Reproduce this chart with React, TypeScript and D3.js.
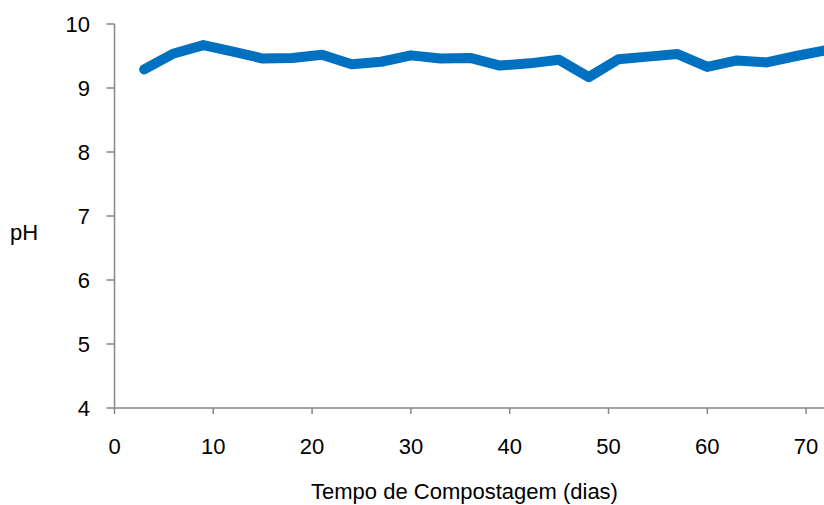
import React from "react";
import * as d3 from "d3";

const days = [3, 6, 9, 12, 15, 18, 21, 24, 27, 30, 33, 36, 39, 42, 45, 48, 51, 54, 57, 60, 63, 66, 69, 72];
const phValues = [9.29, 9.54, 9.67, 9.57, 9.46, 9.47, 9.52, 9.37, 9.41, 9.51, 9.46, 9.47, 9.35, 9.385, 9.44, 9.17, 9.45, 9.49, 9.53, 9.33, 9.43, 9.4, 9.5, 9.59];
const xTicks = [0, 10, 20, 30, 40, 50, 60, 70];
const yTicks = [4, 5, 6, 7, 8, 9, 10];

const W = 824;
const H = 505;
const FONT = "'Liberation Sans', Arial, sans-serif";

export default function App() {
  const x = d3.scaleLinear().domain([0, 80]).range([114.5, 114.5 + 80 * 9.88]);
  const y = d3.scaleLinear().domain([4, 10]).range([408, 24]);
  const line = d3
    .line<number>()
    .x((_, i) => x(days[i]))
    .y((d) => y(d));
  const axisColor = "#868686";
  return (
    <svg
      width={W}
      height={H}
      style={{ position: "absolute", left: 0, top: 0, display: "block" }}
      fontFamily={FONT}
    >
      <rect width={W} height={H} fill="#ffffff" />
      {/* Y axis */}
      <line x1={x(0)} x2={x(0)} y1={y(10)} y2={y(4)} stroke={axisColor} strokeWidth={1.5} />
      {yTicks.map((t) => (
        <g key={"y" + t}>
          <line x1={x(0) - 8} x2={x(0)} y1={y(t)} y2={y(t)} stroke={axisColor} strokeWidth={1.5} />
          <text x={90} y={y(t) + 7.9} textAnchor="end" fontSize={22} fill="#000">
            {t}
          </text>
        </g>
      ))}
      {/* X axis */}
      <line x1={x(0)} x2={W} y1={y(4)} y2={y(4)} stroke={axisColor} strokeWidth={1.5} />
      {xTicks.map((t) => (
        <g key={"x" + t}>
          <line x1={x(t)} x2={x(t)} y1={y(4)} y2={y(4) + 6} stroke={axisColor} strokeWidth={1.5} />
          <text x={x(t)} y={454} textAnchor="middle" fontSize={22} fill="#000">
            {t}
          </text>
        </g>
      ))}
      <text x={464.5} y={499} textAnchor="middle" fontSize={22} fill="#000">
        Tempo de Compostagem (dias)
      </text>
      <text x={10} y={240} fontSize={22} fill="#000">
        pH
      </text>
      <path
        d={line(phValues) || ""}
        fill="none"
        stroke="#0070C0"
        strokeWidth={10}
        strokeLinejoin="round"
        strokeLinecap="round"
      />
    </svg>
  );
}
